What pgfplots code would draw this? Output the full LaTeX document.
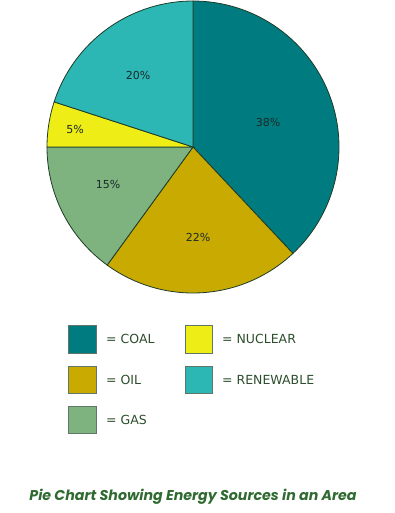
\documentclass[border=0pt]{standalone}
\usepackage{pgfplots}
\pgfplotsset{compat=1.18}
\usepackage{fontspec}
\setmainfont{DejaVu Sans}
\newfontfamily\titlefont{Poppins}
\definecolor{coal}{HTML}{007C80}
\definecolor{oil}{HTML}{C8AA00}
\definecolor{gas}{HTML}{7EB27E}
\definecolor{nuclear}{HTML}{EEEE16}
\definecolor{renew}{HTML}{2CB6B4}
\definecolor{pieedge}{HTML}{1E3C28}
\definecolor{labc}{HTML}{1A2A2A}
\definecolor{legc}{HTML}{2D4D2D}
\definecolor{titc}{HTML}{2F6A30}
\begin{document}
\begin{tikzpicture}
\begin{axis}[hide axis, scale only axis, width=395pt, height=513pt,
  xmin=0, xmax=395, ymin=0, ymax=513, y dir=reverse, clip=false]
\path (axis cs:0,0) rectangle (axis cs:395,513);
% pie sectors: cumulative percentages (coal 38, oil 22, gas 15, nuclear 5, renewable 20)
\addplot[fill=coal, draw=pieedge, line width=0.8pt, domain=0:38, samples=80, variable=\p]
  ({193+146*sin(3.6*\p)}, {147-146*cos(3.6*\p)}) -- (axis cs:193,147) -- cycle;
\addplot[fill=oil, draw=pieedge, line width=0.8pt, domain=38:60, samples=50, variable=\p]
  ({193+146*sin(3.6*\p)}, {147-146*cos(3.6*\p)}) -- (axis cs:193,147) -- cycle;
\addplot[fill=gas, draw=pieedge, line width=0.8pt, domain=60:75, samples=40, variable=\p]
  ({193+146*sin(3.6*\p)}, {147-146*cos(3.6*\p)}) -- (axis cs:193,147) -- cycle;
\addplot[fill=nuclear, draw=pieedge, line width=0.8pt, domain=75:80, samples=20, variable=\p]
  ({193+146*sin(3.6*\p)}, {147-146*cos(3.6*\p)}) -- (axis cs:193,147) -- cycle;
\addplot[fill=renew, draw=pieedge, line width=0.8pt, domain=80:100, samples=50, variable=\p]
  ({193+146*sin(3.6*\p)}, {147-146*cos(3.6*\p)}) -- (axis cs:193,147) -- cycle;
% slice labels
\begin{scope}[every node/.style={font=\fontsize{11}{11}\selectfont, text=labc}]
\node at (axis cs:268,122) {38\%};
\node at (axis cs:198,237) {22\%};
\node at (axis cs:108,184) {15\%};
\node at (axis cs:75,129) {5\%};
\node at (axis cs:138,75) {20\%};
\end{scope}
% legend boxes
\addplot[fill=coal, draw=pieedge!70, line width=0.6pt] coordinates {(68,325) (96,325) (96,353) (68,353) (68,325)};
\addplot[fill=oil, draw=pieedge!70, line width=0.6pt] coordinates {(68,366) (96,366) (96,393) (68,393) (68,366)};
\addplot[fill=gas, draw=pieedge!70, line width=0.6pt] coordinates {(68,406) (96,406) (96,433) (68,433) (68,406)};
\addplot[fill=nuclear, draw=pieedge!70, line width=0.6pt] coordinates {(185,325) (212,325) (212,353) (185,353) (185,325)};
\addplot[fill=renew, draw=pieedge!70, line width=0.6pt] coordinates {(185,366) (212,366) (212,393) (185,393) (185,366)};
\begin{scope}[every node/.style={font=\fontsize{12.5}{13}\selectfont, text=legc, anchor=west, inner sep=0pt}]
\node at (axis cs:106,339) {= COAL};
\node at (axis cs:106,380) {= OIL};
\node at (axis cs:106,420) {= GAS};
\node at (axis cs:222,339) {= NUCLEAR};
\node at (axis cs:222,380) {= RENEWABLE};
\end{scope}
\node[text=titc, font=\titlefont\bfseries\itshape\fontsize{14.2}{15}\selectfont] at (axis cs:193,497) {Pie Chart Showing Energy Sources in an Area};
\end{axis}
\end{tikzpicture}
\end{document}
